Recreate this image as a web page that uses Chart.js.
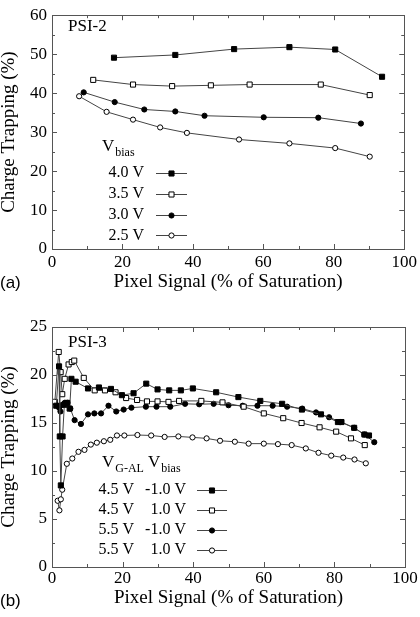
<!DOCTYPE html>
<html>
<head>
<meta charset="utf-8">
<script src="https://cdn.jsdelivr.net/npm/chart.js@4/dist/chart.umd.min.js"></script>
<style>
  html, body { margin: 0; padding: 0; background: #fff; }
  #wrap { position: relative; width: 420px; height: 617px; }
  canvas { position: absolute; left: 0; }
  #ca { top: 0; }
  #cb { top: 308px; }
</style>
</head>
<body>
<div id="wrap">
  <canvas id="ca" width="420" height="308"></canvas>
  <canvas id="cb" width="420" height="309"></canvas>
</div>
<script>
// panel (a) PSI-2, Vbias series
const aX40 = [17.6, 35.0, 51.7, 67.4, 80.4, 93.7];
const aY40 = [49.1, 49.8, 51.3, 51.8, 51.2, 44.2];
const aX35 = [11.7, 23.0, 34.1, 45.1, 56.1, 76.3, 90.2];
const aY35 = [43.4, 42.2, 41.8, 42.0, 42.2, 42.2, 39.5];
const aX30 = [9.0, 17.8, 26.2, 35.0, 43.3, 60.1, 75.6, 87.7];
const aY30 = [40.2, 37.7, 35.8, 35.3, 34.2, 33.8, 33.7, 32.2];
const aX25 = [7.7, 15.5, 23.0, 30.7, 38.3, 53.1, 67.4, 80.4, 90.2];
const aY25 = [39.2, 35.2, 33.2, 31.2, 29.8, 28.1, 27.1, 25.9, 23.7];
const aLabels = ['4.0 V', '3.5 V', '3.0 V', '2.5 V'];

// panel (b) PSI-3, VG-AL / Vbias series
const bX1 = [1.2, 2.0, 2.2, 2.5, 3.0, 3.5, 4.3, 5.0, 5.5, 6.7, 10.2, 13.3, 16.7, 19.8, 23.1, 26.7, 29.9, 33.2, 36.5, 39.9, 46.5, 52.8, 59.0, 65.2, 70.8, 76.2, 81.0, 82.0, 85.6, 88.5, 89.8];
const bY1 = [16.8, 20.9, 13.6, 8.5, 13.6, 16.9, 17.1, 16.5, 19.6, 19.3, 18.6, 18.7, 18.55, 17.9, 18.1, 19.1, 18.5, 18.4, 18.4, 18.6, 18.2, 17.7, 17.3, 17.0, 16.4, 15.9, 15.1, 15.1, 14.5, 13.8, 13.7];
const bX2 = [0.8, 1.9, 2.45, 2.9, 3.6, 4.7, 5.6, 6.3, 9.0, 12.1, 15.0, 18.0, 21.0, 24.1, 26.9, 29.9, 33.0, 36.0, 42.3, 48.3, 54.3, 60.0, 65.5, 70.7, 75.8, 80.5, 84.7, 88.6];
const bY2 = [17.2, 22.4, 20.3, 18.0, 19.6, 21.1, 21.35, 21.5, 19.7, 18.4, 18.4, 18.2, 17.6, 17.4, 17.25, 17.25, 17.2, 17.3, 17.3, 17.15, 16.7, 16.0, 15.5, 15.0, 14.55, 14.1, 13.4, 12.7];
const bX3 = [1.5, 2.0, 2.4, 2.9, 3.6, 4.4, 5.2, 6.4, 8.2, 10.2, 12.0, 13.9, 16.0, 18.2, 20.3, 22.5, 26.6, 29.6, 33.5, 37.7, 41.7, 45.8, 50.0, 54.0, 58.2, 62.5, 66.6, 70.9, 74.8, 78.5, 81.7, 85.6, 88.5, 91.3];
const bY3 = [16.8, 16.6, 16.2, 16.9, 17.1, 17.1, 16.5, 15.3, 14.9, 15.9, 16.0, 16.0, 16.8, 16.2, 16.4, 16.6, 16.7, 16.7, 16.7, 17.0, 16.95, 17.0, 16.85, 16.8, 16.8, 16.8, 16.7, 16.5, 16.1, 15.6, 15.1, 14.5, 13.8, 13.0];
const bX4 = [1.6, 2.1, 2.5, 2.9, 4.2, 5.75, 7.5, 9.2, 11.0, 12.7, 14.7, 16.5, 18.4, 20.5, 24.2, 28.1, 31.9, 35.8, 39.8, 43.8, 47.6, 51.8, 55.7, 60.0, 64.0, 67.9, 71.9, 75.5, 79.1, 82.5, 85.7, 88.9];
const bY4 = [6.9, 5.9, 7.05, 8.05, 10.75, 11.3, 12.0, 12.2, 12.75, 12.95, 13.1, 13.25, 13.7, 13.7, 13.75, 13.7, 13.55, 13.6, 13.5, 13.4, 13.15, 13.05, 12.85, 12.85, 12.8, 12.7, 12.35, 11.9, 11.6, 11.4, 11.2, 10.8];
const bLabelsG = ['4.5 V', '4.5 V', '5.5 V', '5.5 V'];
const bLabelsB = ['-1.0 V', '1.0 V', '-1.0 V', '1.0 V'];

const SERIF = "'Liberation Serif', 'DejaVu Serif', serif";
const LINE = '#444';

// marker styles: filled square, open square, filled circle, open circle
const marks = [
  { pointStyle: 'rect', fill: '#000', r: 3.6 },
  { pointStyle: 'rect', fill: '#fff', r: 3.6 },
  { pointStyle: 'circle', fill: '#000', r: 2.6 },
  { pointStyle: 'circle', fill: '#fff', r: 2.6 }
];

function series(xs, ys, i, label) {
  const m = marks[i];
  return {
    label: label,
    data: xs.map((x, k) => ({ x: x, y: ys[k] })),
    showLine: true,
    borderColor: LINE,
    borderWidth: 1,
    pointStyle: m.pointStyle,
    pointRadius: m.r,
    pointHoverRadius: m.r,
    pointBackgroundColor: m.fill,
    pointBorderColor: '#000',
    pointBorderWidth: 1
  };
}

function drawMark(ctx, i, x, y) {
  const m = marks[i];
  ctx.fillStyle = m.fill;
  ctx.strokeStyle = '#000';
  ctx.lineWidth = 1;
  ctx.beginPath();
  if (m.pointStyle === 'rect') {
    const s = m.r * Math.SQRT1_2;
    ctx.rect(x - s, y - s, 2 * s, 2 * s);
  } else {
    ctx.arc(x, y, m.r, 0, Math.PI * 2);
  }
  ctx.fill();
  ctx.stroke();
}

// frame with inside ticks on all four sides
const frameTicks = {
  id: 'frameTicks',
  afterDraw(chart, args, o) {
    const { ctx, chartArea: a, scales: { x, y } } = chart;
    ctx.save();
    ctx.strokeStyle = '#555';
    ctx.lineWidth = 1;
    ctx.strokeRect(Math.round(a.left) + 0.5, Math.round(a.top) + 0.5, Math.round(a.width), Math.round(a.height));
    ctx.beginPath();
    for (let v = x.min; v <= x.max + 1e-6; v += o.xMinor) {
      const px = Math.round(x.getPixelForValue(v)) + 0.5;
      const len = Math.abs(v % o.xMajor) < 1e-6 ? 5 : 3;
      ctx.moveTo(px, a.bottom); ctx.lineTo(px, a.bottom - len);
      ctx.moveTo(px, a.top); ctx.lineTo(px, a.top + len);
    }
    for (let v = y.min; v <= y.max + 1e-6; v += o.yMinor) {
      const py = Math.round(y.getPixelForValue(v)) + 0.5;
      const len = Math.abs(v % o.yMajor) < 1e-6 ? 5 : 3;
      ctx.moveTo(a.left, py); ctx.lineTo(a.left + len, py);
      ctx.moveTo(a.right, py); ctx.lineTo(a.right - len, py);
    }
    ctx.stroke();
    ctx.restore();
  }
};

// panel name, tag and hand-made legend block
const panelText = {
  id: 'panelText',
  afterDraw(chart, args, o) {
    const ctx = chart.ctx;
    ctx.save();
    ctx.fillStyle = '#000';
    ctx.textBaseline = 'middle';
    ctx.font = '17px ' + SERIF;
    ctx.textAlign = 'left';
    ctx.fillText(o.name, 68, o.nameY);
    ctx.font = "17px 'Liberation Sans', Arial, sans-serif";
    ctx.fillText(o.tag, 0, o.tagY);

    // header: V with subscripts
    o.heads.forEach(h => {
      ctx.font = '17px ' + SERIF;
      ctx.fillText('V', h.x, o.headY);
      const w = ctx.measureText('V').width;
      ctx.font = '12px ' + SERIF;
      ctx.fillText(h.sub, h.x + w + 1, o.headY + 6);
    });

    o.rows.forEach((row, i) => {
      const yy = o.rowY + i * o.rowStep;
      ctx.font = '16px ' + SERIF;
      ctx.fillStyle = '#000';
      ctx.textAlign = 'right';
      row.forEach(c => ctx.fillText(c.t, c.x, yy));
      ctx.strokeStyle = LINE;
      ctx.lineWidth = 1;
      ctx.beginPath();
      ctx.moveTo(o.lineX0, Math.round(yy) + 0.5);
      ctx.lineTo(o.lineX1, Math.round(yy) + 0.5);
      ctx.stroke();
      drawMark(ctx, i, (o.lineX0 + o.lineX1) / 2, Math.round(yy) + 0.5);
    });
    ctx.restore();
  }
};

function makeOptions(yMax, padTop, xHeight, titlePad, tickPad, legend, ticks) {
  return {
    responsive: false,
    animation: false,
    layout: { padding: { top: padTop, right: 15, left: 0, bottom: 0 } },
    plugins: {
      legend: { display: false },
      tooltip: { enabled: false },
      frameTicks: ticks,
      panelText: legend
    },
    scales: {
      x: {
        type: 'linear', min: 0, max: 100,
        grid: { display: false, drawTicks: false },
        border: { display: false },
        ticks: { stepSize: 20, padding: tickPad, color: '#000', font: { family: SERIF, size: 17 }, maxRotation: 0 },
        title: { display: true, text: 'Pixel Signal (% of Saturation)', color: '#000', font: { family: SERIF, size: 19 }, padding: { top: 0, bottom: titlePad } },
        afterFit: s => { s.height = xHeight; }
      },
      y: {
        type: 'linear', min: 0, max: yMax,
        grid: { display: false, drawTicks: false },
        border: { display: false },
        ticks: { stepSize: yMax === 60 ? 10 : 5, padding: 5, color: '#000', font: { family: SERIF, size: 17 } },
        title: { display: true, text: 'Charge Trapping (%)', color: '#000', font: { family: SERIF, size: 19, lineHeight: 1 }, padding: { top: 0, bottom: 0 } },
        afterFit: s => { s.width = 52; }
      }
    }
  };
}

new Chart(document.getElementById('ca'), {
  type: 'scatter',
  data: {
    datasets: [
      series(aX40, aY40, 0, aLabels[0]),
      series(aX35, aY35, 1, aLabels[1]),
      series(aX30, aY30, 2, aLabels[2]),
      series(aX25, aY25, 3, aLabels[3])
    ]
  },
  options: makeOptions(60, 9, 59, 15, 3,
    {
      name: 'PSI-2', nameY: 27, tag: '(a)', tagY: 283,
      heads: [{ x: 102, sub: 'bias' }], headY: 147,
      rows: aLabels.map(t => [{ t: t, x: 144 }]),
      rowY: 173, rowStep: 20.8, lineX0: 156, lineX1: 187
    },
    { xMinor: 10, xMajor: 20, yMinor: 5, yMajor: 10 }),
  plugins: [frameTicks, panelText]
});

new Chart(document.getElementById('cb'), {
  type: 'scatter',
  data: {
    datasets: [
      series(bX1, bY1, 0, bLabelsG[0] + ' ' + bLabelsB[0]),
      series(bX2, bY2, 1, bLabelsG[1] + ' ' + bLabelsB[1]),
      series(bX3, bY3, 2, bLabelsG[2] + ' ' + bLabelsB[2]),
      series(bX4, bY4, 3, bLabelsG[3] + ' ' + bLabelsB[3])
    ]
  },
  options: makeOptions(25, 19, 50, 8, 1,
    {
      name: 'PSI-3', nameY: 35, tag: '(b)', tagY: 293,
      heads: [{ x: 102, sub: 'G-AL' }, { x: 148, sub: 'bias' }], headY: 155,
      rows: bLabelsG.map((t, i) => [{ t: t, x: 134 }, { t: bLabelsB[i], x: 186 }]),
      rowY: 181.5, rowStep: 20, lineX0: 197, lineX1: 227
    },
    { xMinor: 10, xMajor: 20, yMinor: 2.5, yMajor: 5 }),
  plugins: [frameTicks, panelText]
});
</script>
</body>
</html>
